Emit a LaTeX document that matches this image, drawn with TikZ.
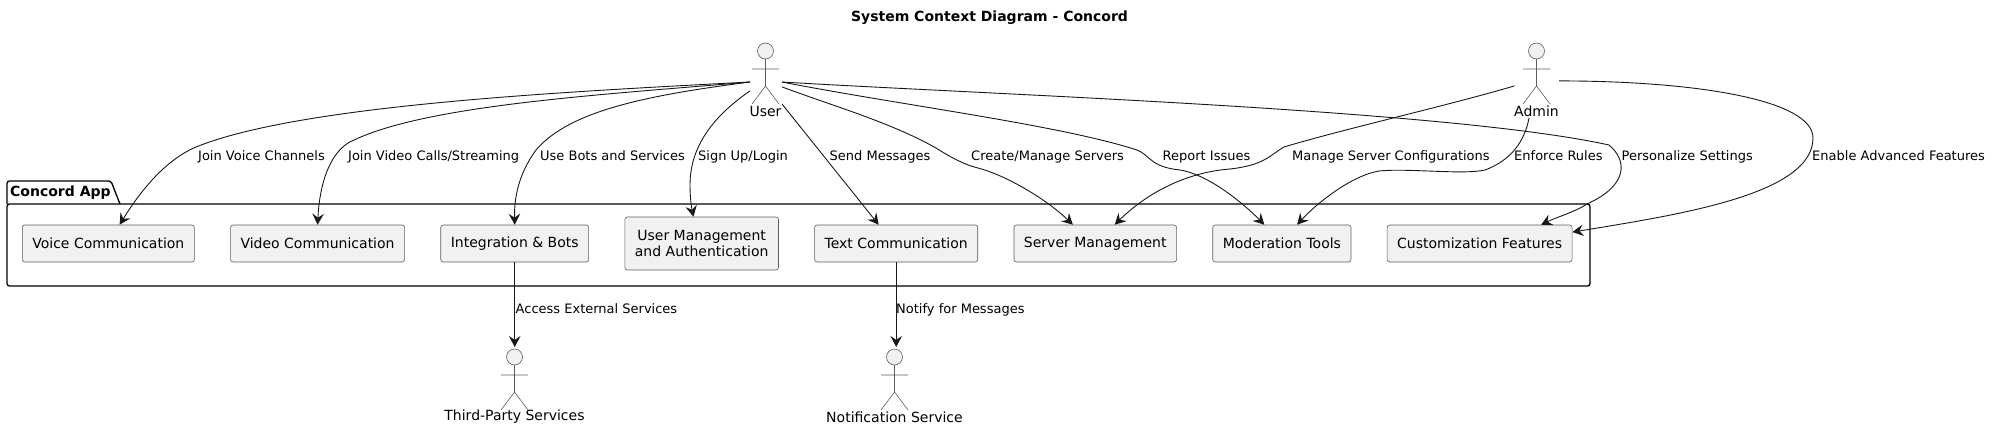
\documentclass[tikz,border=0pt]{standalone}
\usepackage{fontspec}
\setmainfont{DejaVu Sans}
\usetikzlibrary{arrows.meta,positioning}

\definecolor{boxfill}{HTML}{F1F1F1}
\definecolor{inkline}{HTML}{181818}

\tikzset{
  feature/.style={draw=inkline!70, line width=.6pt, fill=boxfill, rounded corners=2.5pt, minimum height=37pt, inner xsep=10pt, inner ysep=0pt, align=center, font=\fontsize{14}{16.5}\selectfont},
  port/.style={inner sep=0pt, outer sep=0pt},
  link/.style={-{Stealth[length=11pt,width=11.5pt,inset=4pt]}, draw=inkline, line width=.9pt},
  linktext/.style={anchor=west, inner sep=0pt, text height=10pt, text depth=3pt, font=\fontsize{13}{15}\selectfont},
  actortext/.style={inner sep=0pt, font=\fontsize{14}{16}\selectfont},
  stickman/.pic={
    \node[port, circle, minimum size=16pt, draw=inkline!70, line width=.6pt, fill=boxfill] (-head) at (0,-27) {};
    \draw[inkline!70, line width=.6pt] (-head.south) -- (0,8) (-13.5,-9) -- (13.5,-9) (-13.5,26) -- (0,8) -- (13.5,26);
  }
}

\begin{document}
\begin{tikzpicture}[x=1pt, y=-1pt, node distance=35.6pt]
   \useasboundingbox (0,0) rectangle (1992,429);

   \node[inner sep=0pt, font=\bfseries\fontsize{14}{16}\selectfont] (title) at (989.5,18) {System Context Diagram - Concord};

   % package
   \draw[black, line width=1.3pt, rounded corners=2.5pt] (7,204) -- (7,181) -- (111,181) -- (120,204);
   \draw[black, line width=1.3pt, rounded corners=2.5pt] (7,204) -- (1590,204) -- (1590,286) -- (7,286) -- cycle;
   \node[anchor=west, inner sep=0pt, font=\bfseries\fontsize{14}{16}\selectfont] (pkg) at (10,192.5) {Concord App};

   % features
   \node[feature, anchor=west] (voice) at (22,243.5) {Voice Communication};
   \node[feature] (video) [right=of voice] {Video Communication};
   \node[feature] (integ) [right=of video] {Integration \& Bots};
   \node[feature, minimum height=53pt] (umgmt) [right=of integ] {User Management\\and Authentication};
   \node[feature] (textcom) [right=of umgmt] {Text Communication};
   \node[feature] (server) [right=of textcom] {Server Management};
   \node[feature] (moder) [right=of server] {Moderation Tools};
   \node[feature] (custom) [right=of moder] {Customization Features};

   % actors
   \pic (userfig) at (765.5,78) {stickman};
   \pic (adminfig) at (1536.5,78) {stickman};
   \pic (thirdfig) at (514.5,384) {stickman};
   \pic (notifyfig) at (894.5,384) {stickman};
   \node[actortext] (userlabel) at (765.5,111) {User};
   \node[actortext] (adminlabel) at (1536.5,111) {Admin};
   \node[actortext] (thirdlabel) at (514.5,417) {Third-Party Services};
   \node[actortext] (notifylabel) at (894.5,417) {Notification Service};
   \node[port, minimum width=32pt, minimum height=44pt] (user) at (766,82) {};
   \node[port, minimum width=44.5pt, minimum height=58pt] (admin) at (1536.75,89) {};

   % connectors
   \draw[link] (user.west) .. controls (560,92) and (300,105) .. (196,147) .. controls (163,161) and (138,195) .. (voice.59);
   \draw[link] (user.west) .. controls (600,95) and (420,105) .. (348,143) .. controls (325,158) and (319,195) .. (video.north);
   \draw[link] (user.west) .. controls (650,95) and (570,110) .. (536,150) .. controls (520,172) and (514,195) .. (integ.north);
   \draw[link] (user.209) .. controls (715,115) and (690,145) .. (690,185) .. controls (690,195) and (691,205) .. (umgmt.107);
   \draw[link] (user.south east) -- (textcom.133);
   \draw[link] (user.-17) .. controls (830,105) and (890,122) .. (936,148) .. controls (950,157) and (965,165) .. (978,168) .. controls (1005,175) and (1045,198) .. (server.140);
   \draw[link] (user.east) .. controls (900,105) and (1060,125) .. (1137,150) .. controls (1150,155) and (1150,167) .. (1180,170) .. controls (1210,175) and (1245,205) .. (moder.133);
   \draw[link] (user.east) .. controls (1000,95) and (1450,110) .. (1609,145) .. controls (1627,160) and (1629,185) .. (1587,204) .. controls (1575,212) and (1557,217) .. (custom.17);
   \draw[link] (admin.172) .. controls (1450,105) and (1340,130) .. (1284,147) .. controls (1270,155) and (1265,165) .. (1230,169) .. controls (1190,172) and (1150,190) .. (server.44);
   \draw[link] (admin.255) .. controls (1525,140) and (1512,160) .. (1485,170) .. controls (1463,175) and (1408,168) .. (1379,171) .. controls (1350,176) and (1315,205) .. (moder.51);
   \draw[link] (admin.20) .. controls (1697,81) and (1813,100) .. (1813,138) .. controls (1813,195) and (1676,215) .. (custom.7);
   \draw[link, shorten >=2pt] (integ.south) -- (integ.south |- thirdfig-head.north);
   \draw[link, shorten >=2pt] (textcom.south) -- (textcom.south |- notifyfig-head.north);

   % connector labels
   \node[linktext] (lvoice) at (198,157) {Join Voice Channels};
   \node[linktext] (lvideo) at (348,157) {Join Video Calls/Streaming};
   \node[linktext] (lbots) at (540,157) {Use Bots and Services};
   \node[linktext] (lsign) at (698,157) {Sign Up/Login};
   \node[linktext] (lsend) at (829.5,157) {Send Messages};
   \node[linktext] (lcreate) at (971,157) {Create/Manage Servers};
   \node[linktext] (lreport) at (1162.5,157) {Report Issues};
   \node[linktext] (lmanage) at (1292,157) {Manage Server Configurations};
   \node[linktext] (lenforce) at (1514,157) {Enforce Rules};
   \node[linktext] (lperson) at (1621.5,157) {Personalize Settings};
   \node[linktext] (lenable) at (1812,157) {Enable Advanced Features};
   \node[linktext] (laccess) at (515.5,310) {Access External Services};
   \node[linktext] (lnotify) at (896,310) {Notify for Messages};
\end{tikzpicture}
\end{document}
